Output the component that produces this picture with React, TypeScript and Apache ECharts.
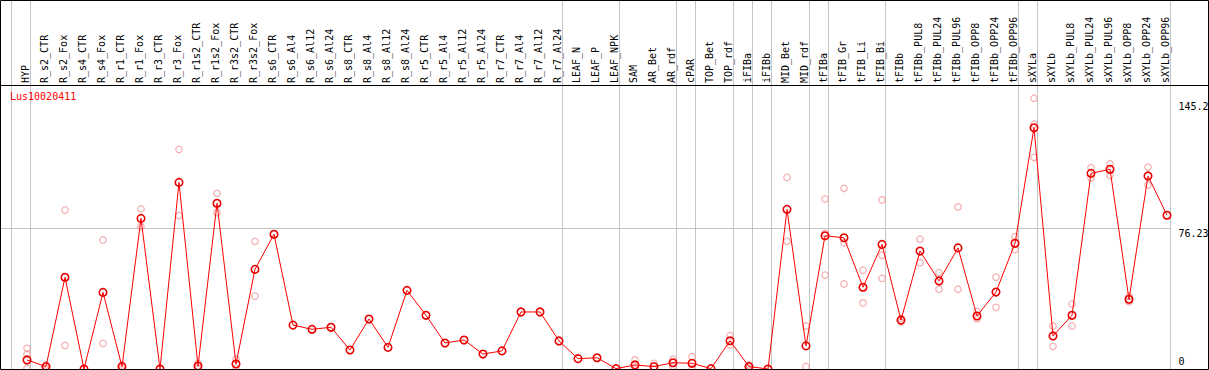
import React, { useEffect, useRef } from 'react';
import * as echarts from 'echarts';

const titleText = 'Lus10020411';

const categories = [
  'HYP', 'R_s2_CTR', 'R_s2_Fox', 'R_s4_CTR', 'R_s4_Fox', 'R_r1_CTR', 'R_r1_Fox', 'R_r3_CTR', 'R_r3_Fox',
  'R_r1s2_CTR', 'R_r1s2_Fox', 'R_r3s2_CTR', 'R_r3s2_Fox', 'R_s6_CTR', 'R_s6_Al4', 'R_s6_Al12', 'R_s6_Al24',
  'R_s8_CTR', 'R_s8_Al4', 'R_s8_Al12', 'R_s8_Al24', 'R_r5_CTR', 'R_r5_Al4', 'R_r5_Al12', 'R_r5_Al24',
  'R_r7_CTR', 'R_r7_Al4', 'R_r7_Al12', 'R_r7_Al24', 'LEAF_N', 'LEAF_P', 'LEAF_NPK', 'SAM', 'AR_Bet', 'AR_rdf',
  'cPAR', 'TOP_Bet', 'TOP_rdf', 'iFIBa', 'iFIBb', 'MID_Bet', 'MID_rdf', 'tFIBa', 'tFIB_Gr', 'tFIB_Li', 'tFIB_Bi',
  'tFIBb', 'tFIBb_PUL8', 'tFIBb_PUL24', 'tFIBb_PUL96', 'tFIBb_OPP8', 'tFIBb_OPP24', 'tFIBb_OPP96', 'sXYLa',
  'sXYLb', 'sXYLb_PUL8', 'sXYLb_PUL24', 'sXYLb_PUL96', 'sXYLb_OPP8', 'sXYLb_OPP24', 'sXYLb_OPP96',
];

// first category index of each group (vertical separators)
const groupStarts = [0, 1, 29, 32, 35, 36, 38, 39, 40, 42, 43, 46, 53, 54];

const meanValues = [
  4.9, 1.3, 49.7, 0, 41.5, 1.3, 81.6, 0, 101.1,
  1.6, 89.8, 2.7, 54.0, 73.0, 23.8, 21.5, 22.6,
  10.3, 27.1, 11.7, 42.6, 29.1, 14.1, 15.7, 8.1,
  9.8, 30.9, 30.9, 15.2, 5.6, 6.1, 0.2, 2.2, 1.3, 3.4,
  3.1, 0.2, 15.3, 1.3, 0, 86.5, 12.5, 72.2, 71.1, 44.3, 67.5,
  26.5, 63.9, 47.7, 65.6, 28.7, 41.7, 68.1, 130.7,
  17.9, 29.1, 106.0, 108.2, 37.8, 104.6, 83.3,
];

const repA = [
  11.2, 2.2, 86.1, null, 69.9, 2.2, 86.7, null, 119.0,
  3.1, 95.2, 5.2, 69.2, null, null, null, null,
  null, null, null, null, null, null, null, null,
  null, null, null, null, null, null, null, 4.9, 3.1, 5.2,
  6.7, null, 18.1, 2.2, null, 103.8, 23.3, 92.1, 97.9, 53.5, 91.6,
  27.5, 70.3, 52.2, 87.8, 31.1, 49.8, 71.7, 146.7,
  23.3, 35.2, 109.1, 111.2, 39.5, 109.4, null,
];

const repB = [
  8.0, 0.5, 12.8, null, 13.9, 0.5, 77.1, null, 83.1,
  0.5, 84.7, 0.5, 39.5, null, null, null, null,
  null, null, null, null, null, null, null, null,
  null, null, null, null, null, null, null, 0, 0, 1.5,
  0, null, 13.0, 0.5, null, 69.2, 1.3, 73.5, 68.4, 35.8, 61.6,
  25.5, 57.6, 43.2, 43.2, 27.1, 33.4, 64.6, 132.6,
  12.3, 23.3, 103.5, 104.9, 36.5, 99.7, null,
];

const repC = [
  0.4, null, null, null, null, null, null, null, null,
  null, null, null, null, null, null, null, null,
  null, null, null, null, null, null, null, null,
  null, null, null, null, null, null, null, null, null, null,
  null, null, null, null, null, null, null, 50.9, 46.1, null, 49.1,
  null, null, null, null, null, null, null, 114.7,
  null, null, null, null, null, null, null,
];

const yTickValues = [0, 76.23, 145.2];
const yTickLabels = ['0', '76.23', '145.2'];

const FONT = 'DejaVu Sans Mono';

export default function App() {
  const ref = useRef<HTMLDivElement>(null);

  useEffect(() => {
    if (!ref.current) return;
    const chart = echarts.init(ref.current, undefined, { renderer: 'svg' });

    const repData: [number, number][] = [];
    [repA, repB, repC].forEach((arr) => {
      arr.forEach((v, i) => {
        if (v !== null && v !== undefined) repData.push([i, v as number]);
      });
    });

    const yMax = yTickValues[yTickValues.length - 1];
    const labelOf = (v: number) => {
      const idx = yTickValues.findIndex((t) => Math.abs(t - v) < 1e-6);
      return idx >= 0 ? yTickLabels[idx] : '';
    };

    const option: any = {
      animation: false,
      backgroundColor: '#ffffff',
      title: {
        text: titleText,
        left: 10,
        top: 91,
        padding: 0,
        textStyle: { color: '#ff0000', fontSize: 10, fontFamily: FONT, fontWeight: 'normal' },
      },
      grid: [
        // 0: y axis + horizontal grid line
        { left: 1, right: 38.5, top: 101, bottom: 1, outerBoundsMode: 'none', containLabel: false },
        // 1: group separators
        { left: 11.5, width: 1159, top: 0.5, bottom: 0.5, outerBoundsMode: 'none', containLabel: false },
        // 2: series
        { left: 17.5, width: 1159, top: 101, bottom: 1, outerBoundsMode: 'none', containLabel: false },
        // 3: category labels
        { left: 15.5, width: 1159, top: 85, bottom: 1, outerBoundsMode: 'none', containLabel: false },
      ],
      xAxis: [
        { gridIndex: 0, type: 'value', show: false },
        {
          gridIndex: 1, type: 'category', data: categories,
          axisLine: { show: false }, axisTick: { show: false }, axisLabel: { show: false },
          splitLine: {
            show: true,
            interval: (index: number) => groupStarts.includes(index),
            lineStyle: { color: '#c4c4c4', width: 1 },
          },
        },
        {
          gridIndex: 2, type: 'category', data: categories,
          axisLine: { show: false }, axisTick: { show: false }, axisLabel: { show: false },
          splitLine: { show: false },
        },
        {
          gridIndex: 3, type: 'category', data: categories, position: 'top',
          axisLine: { show: false }, axisTick: { show: false }, splitLine: { show: false },
          axisLabel: {
            interval: 0, rotate: 90, margin: 2,
            fontSize: 10, fontFamily: FONT, color: '#000000',
          },
        },
      ],
      yAxis: [
        {
          gridIndex: 0, type: 'value', position: 'right', min: 0, max: yMax, interval: yTickValues[1],
          axisLine: { show: false }, axisTick: { show: false },
          splitLine: { show: true, lineStyle: { color: ['rgba(0,0,0,0)', '#c4c4c4', 'rgba(0,0,0,0)'], width: 1 } },
          axisLabel: {
            show: true, margin: 8, color: '#000000', fontSize: 10, fontFamily: FONT, lineHeight: 12,
            formatter: (v: number) => (v === 0 ? `{bot|${labelOf(v)}}` : `{top|${labelOf(v)}}`),
            rich: {
              top: { padding: [10, 0, 0, 0], fontSize: 10, fontFamily: FONT, color: '#000', lineHeight: 12 },
              bot: { padding: [0, 0, 15, 0], fontSize: 10, fontFamily: FONT, color: '#000', lineHeight: 12 },
            },
          },
        },
        { gridIndex: 1, type: 'value', show: false },
        { gridIndex: 2, type: 'value', min: 0, max: yMax, show: false },
        { gridIndex: 3, type: 'value', show: false },
      ],
      graphic: [
        {
          type: 'rect', silent: true, z: 100,
          shape: { x: 0.5, y: 0.5, width: 1208, height: 369 },
          style: { fill: 'none', stroke: '#000000', lineWidth: 1 },
        },
        {
          type: 'line', silent: true, z: 100,
          shape: { x1: 0, y1: 85.5, x2: 1209, y2: 85.5 },
          style: { stroke: '#000000', lineWidth: 1 },
        },
      ],
      series: [
        {
          type: 'scatter', xAxisIndex: 2, yAxisIndex: 2, data: repData, clip: false,
          symbol: 'circle', symbolSize: 6.5,
          itemStyle: { color: 'rgba(255,255,255,0)', borderColor: '#f29a9a', borderWidth: 1.2 },
          emphasis: { disabled: true },
        },
        {
          type: 'line', xAxisIndex: 2, yAxisIndex: 2, data: meanValues, clip: false,
          symbol: 'circle', symbolSize: 7.5, showAllSymbol: true,
          lineStyle: { color: '#ff0000', width: 1 },
          itemStyle: { color: 'rgba(255,255,255,0)', borderColor: '#e80000', borderWidth: 1.6 },
          emphasis: { disabled: true },
        },
      ],
    };

    chart.setOption(option);
    return () => chart.dispose();
  }, []);

  return (
    <div
      ref={ref}
      style={{ position: 'absolute', left: 0, top: 0, width: 1209, height: 370 }}
    />
  );
}
